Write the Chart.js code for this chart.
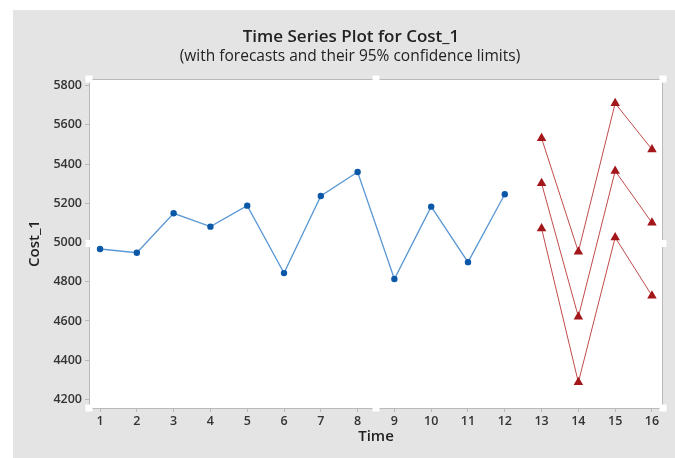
<!DOCTYPE html>
<html>
<head>
<meta charset="utf-8">
<script src="https://cdn.jsdelivr.net/npm/chart.js@4"></script>
<style>
  html, body { margin: 0; padding: 0; background: #ffffff; }
  #wrap { width: 675px; height: 458px; }
</style>
</head>
<body>
<div id="wrap"><canvas id="c" width="675" height="458"></canvas></div>
<script>
// Observed costs per period
const periods = [1, 2, 3, 4, 5, 6, 7, 8, 9, 10, 11, 12];
const cost = [4967, 4948, 5149, 5081, 5188, 4844, 5237, 5360, 4814, 5183, 4900, 5246];

// Forecasts with their 95% limits
const forecastPeriods = [13, 14, 15, 16];
const forecast = [5302, 4621, 5365, 5101];
const lower95 = [5072, 4287, 5026, 4729];
const upper95 = [5532, 4953, 5710, 5475];

// Axis tick labels
const xTicks = [1, 2, 3, 4, 5, 6, 7, 8, 9, 10, 11, 12, 13, 14, 15, 16];
const yTicks = [4200, 4400, 4600, 4800, 5000, 5200, 5400, 5600, 5800];

const FONT = '"Open Sans", "Noto Sans", sans-serif';
const PANEL = '#e4e4e4';
const FRAME = '#b9b9b9';

const pairs = (xs, ys) => xs.map((x, i) => ({ x: x, y: ys[i] }));

const redSeries = (label, values) => ({
  label: label,
  data: pairs(forecastPeriods, values),
  borderColor: '#c24b4b',
  borderWidth: 1,
  pointStyle: 'triangle',
  pointRadius: 5.5,
  pointBackgroundColor: '#a3161a',
  pointBorderColor: '#a3161a',
  pointBorderWidth: 0,
  tension: 0
});

// Grey panel, white plot area, frame and corner handles
const panelPlugin = {
  id: 'panel',
  beforeDraw(chart) {
    const { ctx, chartArea: a } = chart;
    ctx.save();
    ctx.fillStyle = '#ffffff';
    ctx.fillRect(0, 0, chart.width, chart.height);
    ctx.fillStyle = PANEL;
    ctx.fillRect(13, 10, chart.width - 13, chart.height - 10);
    ctx.fillStyle = '#ffffff';
    ctx.fillRect(a.left, a.top, a.right - a.left, a.bottom - a.top);
    ctx.restore();
  },
  afterDraw(chart) {
    const { ctx, chartArea: a } = chart;
    ctx.save();
    ctx.strokeStyle = FRAME;
    ctx.lineWidth = 1;
    ctx.beginPath();
    ctx.moveTo(a.left, a.top + 0.5);
    ctx.lineTo(a.right, a.top + 0.5);
    ctx.moveTo(a.right - 0.5, a.top);
    ctx.lineTo(a.right - 0.5, a.bottom);
    ctx.stroke();
    const s = 7;
    const mx = (a.left + a.right) / 2, my = (a.top + a.bottom) / 2;
    const spots = [
      [a.left, a.top], [mx, a.top], [a.right, a.top],
      [a.right, my], [a.right, a.bottom], [mx, a.bottom],
      [a.left, a.bottom], [a.left, my]
    ];
    ctx.fillStyle = '#ffffff';
    spots.forEach(([x, y]) => ctx.fillRect(x - s / 2, y - s / 2, s, s));

    // Headings
    ctx.fillStyle = '#222222';
    ctx.textAlign = 'center';
    ctx.textBaseline = 'middle';
    ctx.font = '600 17px ' + FONT;
    ctx.fillText('Time Series Plot for Cost_1', 351, 37);
    ctx.font = '15.5px ' + FONT;
    ctx.fillText('(with forecasts and their 95% confidence limits)', 350, 57);
    ctx.restore();
  }
};

new Chart(document.getElementById('c'), {
  type: 'line',
  data: {
    datasets: [
      {
        label: 'Cost_1',
        data: pairs(periods, cost),
        borderColor: '#5a98d4',
        borderWidth: 1.3,
        pointRadius: 3.2,
        pointBackgroundColor: '#0b58a8',
        pointBorderColor: '#0b58a8',
        pointBorderWidth: 0,
        tension: 0
      },
      redSeries('Upper 95%', upper95),
      redSeries('Forecast', forecast),
      redSeries('Lower 95%', lower95)
    ]
  },
  options: {
    responsive: false,
    animation: false,
    layout: { padding: { left: 13, right: 12, top: 79, bottom: 12 } },
    plugins: {
      legend: { display: false },
      tooltip: { enabled: false },
      title: { display: false }
    },
    scales: {
      x: {
        type: 'linear',
        min: 0.7,
        max: 16.3,
        afterBuildTicks(scale) { scale.ticks = xTicks.map(v => ({ value: v })); },
        afterFit(scale) { scale.height = 38; },
        border: { display: true, color: FRAME, width: 1 },
        grid: { drawOnChartArea: false, drawTicks: true, tickLength: 4, color: FRAME },
        ticks: {
          color: '#333333',
          padding: 2,
          autoSkip: false,
          maxRotation: 0,
          font: { family: FONT, size: 12.5, weight: '600' }
        },
        title: {
          display: true,
          text: 'Time',
          color: '#222222',
          padding: { top: 2, bottom: 0 },
          font: { family: FONT, size: 15, weight: '600' }
        }
      },
      y: {
        min: 4156,
        max: 5834,
        afterBuildTicks(scale) { scale.ticks = yTicks.map(v => ({ value: v })); },
        afterFit(scale) { scale.width = 76; },
        border: { display: true, color: FRAME, width: 1 },
        grid: { drawOnChartArea: false, drawTicks: true, tickLength: 4, color: FRAME },
        ticks: {
          color: '#333333',
          padding: 3,
          callback: v => String(v),
          font: { family: FONT, size: 12.5, weight: '600' }
        },
        title: {
          display: true,
          text: 'Cost_1',
          color: '#222222',
          padding: { top: 13, bottom: 0 },
          font: { family: FONT, size: 15, weight: '600' }
        }
      }
    }
  },
  plugins: [panelPlugin]
});
</script>
</body>
</html>
